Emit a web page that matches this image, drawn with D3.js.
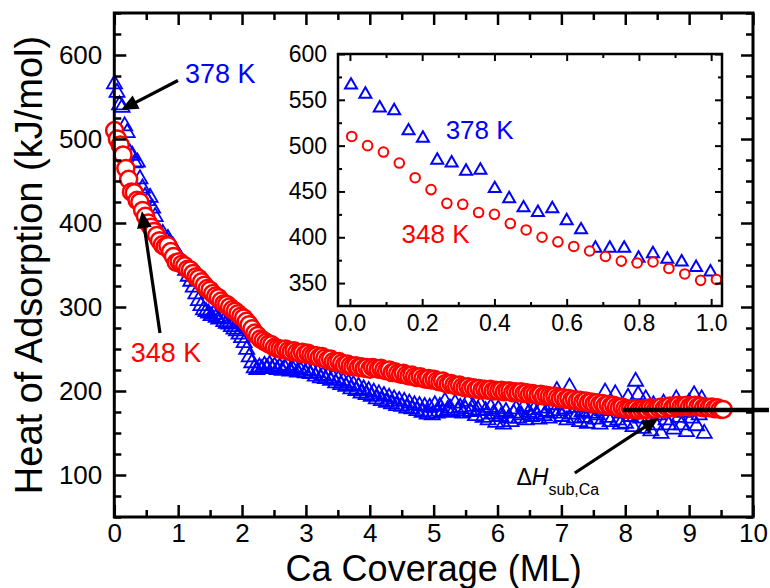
<!DOCTYPE html>
<html>
<head>
<meta charset="utf-8">
<script src="https://cdn.jsdelivr.net/npm/d3@7"></script>
<style>
  body { margin: 0; background: #fff; }
  svg { display: block; }
</style>
</head>
<body>
<div id="chart"></div>
<script>
// 378 K run (blue triangles): points are 0.0398 ML apart, first one at 0.003 ML
const tri378Start = 0.003, tri378Step = 0.0398
const tri378 = [568, 558, 543, 540, 518, 510, 486, 483, 474, 475, 455, 444, 434, 429, 433, 420, 410, 390, 390, 390, 379, 384, 378, 375, 369, 364,
  360, 352, 346, 339, 333, 326, 318, 310, 304, 299,
  297, 295, 292, 294, 290, 288, 289, 285, 283, 282,
  279, 276, 274, 270, 266, 260, 252, 243, 236, 230,
  228, 231, 229, 233, 230, 234, 229, 232, 228, 231,
  227, 230, 233, 226, 229, 231, 225, 228, 230, 224,
  227, 223, 226, 220, 224, 218, 221, 217, 220, 215,
  218, 212, 216, 210, 214, 208, 212, 205, 210, 203,
  208, 200, 205, 198, 203, 196, 201, 193, 199, 191,
  197, 189, 195, 187, 193, 185, 191, 184, 190, 182,
  188, 181, 186, 179, 185, 177, 184, 175, 183, 174,
  186, 176, 184, 178, 190, 180, 182, 177, 188, 179,
  183, 176, 181, 190, 178, 184, 173, 180, 186, 171,
  179, 168, 183, 175, 165, 181, 172, 163, 178, 170,
  166, 176, 181, 170, 174, 184, 168, 177, 172, 180,
  175, 169, 182, 173, 178, 170, 186, 176, 203, 179,
  172, 181, 168, 207, 175, 170, 183, 166, 178, 171,
  164, 176, 182, 169, 174, 163, 179, 201, 171, 166,
  181, 199, 168, 163, 176, 164, 195, 172, 160, 214,
  198, 170, 158, 193, 176, 155, 186, 162, 174, 152,
  188, 168, 162, 180, 157, 193, 171, 162, 177, 154,
  189, 170, 198, 161, 174, 193, 152]

// 348 K run (red circles): points are 0.0439 ML apart, first one at 0.005 ML
const circ348Start = 0.005, circ348Step = 0.0439
const circ348 = [510, 500, 493, 481, 465, 452, 437, 436, 427, 425, 415, 408, 400, 395, 390, 385, 379, 374, 372, 373, 366, 360, 353, 354,
  351, 349, 345, 344, 340, 336, 334, 330, 326, 322,
  320, 316, 313, 311, 307, 304, 303, 300, 297, 295,
  292, 289, 287, 283, 279, 274, 269, 266, 262, 260,
  258, 256, 255, 252, 251, 250, 249, 250, 248, 247,
  248, 246, 245, 246, 244, 245, 243, 242, 242, 240,
  241, 239, 237, 238, 235, 234, 235, 233, 231, 232,
  230, 229, 230, 228, 229, 227, 228, 226, 228, 227,
  226, 227, 225, 224, 225, 222, 223, 221, 220, 221,
  219, 218, 219, 217, 216, 217, 215, 214, 215, 213,
  214, 212, 211, 212, 209, 208, 209, 207, 206, 207,
  205, 204, 205, 203, 204, 202, 203, 201, 202, 201,
  202, 200, 201, 200, 201, 199, 200, 200, 198, 199,
  198, 199, 197, 198, 196, 197, 196, 195, 196, 194,
  195, 194, 193, 194, 192, 191, 192, 190, 191, 189,
  190, 188, 189, 187, 188, 186, 187, 185, 186, 184,
  185, 183, 184, 182, 183, 181, 180, 181, 179, 178,
  179, 178, 179, 177, 178, 179, 178, 180, 179, 178,
  180, 181, 179, 181, 182, 180, 182, 183, 181, 182,
  183, 181, 182, 183, 181, 182, 180, 181, 180, 181,
  179, 180, 178, 178]

// sublimation enthalpy of Ca, drawn as a flat line
const dHsub = 177.4
const dHsubFrom = 7.96, dHsubTo = 10.25

const xTicksMain = [0, 1, 2, 3, 4, 5, 6, 7, 8, 9, 10]
const yTicksMain = [100, 200, 300, 400, 500, 600]
const xTicksInset = [0, 0.2, 0.4, 0.6, 0.8, 1.0]
const yTicksInset = [350, 400, 450, 500, 550, 600]

const W = 770, H = 588
const font = '"Liberation Sans", Arial, sans-serif'
const BLUE = '#0000ff', RED = '#ff0000'

const toPoints = (vals, start, step) => vals.map((v, i) => [start + i * step, v])
const triPts = toPoints(tri378, tri378Start, tri378Step)
const circPts = toPoints(circ348, circ348Start, circ348Step)

// triangle centred on its bounding box, size = base width
const triUp = {
  draw(ctx, size) {
    const h = size * 0.866
    ctx.moveTo(0, -h / 2)
    ctx.lineTo(size / 2, h / 2)
    ctx.lineTo(-size / 2, h / 2)
    ctx.closePath()
  }
}

const svg = d3.select('#chart').append('svg')
  .attr('width', W).attr('height', H)
  .style('font-family', font)

const m = {left: 114.3, top: 13, right: 753, bottom: 517}
const x = d3.scaleLinear().domain([0, 10]).range([m.left, m.right])
const y = d3.scaleLinear().domain([50, 650]).range([m.bottom, m.top])

function drawAxis(axis, tx, ty, sw, fs) {
  const g = svg.append('g').attr('transform', `translate(${tx},${ty})`).call(axis)
  g.select('.domain').remove()
  g.selectAll('.tick line').attr('stroke', '#000').attr('stroke-width', sw)
  g.selectAll('.tick text').attr('fill', '#000').style('font-family', font).style('font-size', fs + 'px')
  return g
}

// ---- main data
svg.append('g').selectAll('path').data(triPts).join('path')
  .attr('transform', d => `translate(${x(d[0])},${y(d[1])})`)
  .attr('d', d3.symbol(triUp, 15))
  .attr('fill', 'none').attr('stroke', BLUE).attr('stroke-width', 1.8)

svg.append('g').selectAll('circle').data(circPts).join('circle')
  .attr('cx', d => x(d[0])).attr('cy', d => y(d[1])).attr('r', 8.5)
  .attr('fill', '#fff').attr('stroke', RED).attr('stroke-width', 2.5)

// ---- main axes
const xMinor = d3.range(0.5, 10, 1)
const yMinor = d3.range(50, 651, 25).filter(v => v % 100 !== 0)
drawAxis(d3.axisBottom(x).tickValues(xTicksMain).tickSizeInner(-12).tickSizeOuter(0).tickPadding(6.5).tickFormat(d3.format('d')), 0, m.bottom, 2.5, 26)
drawAxis(d3.axisBottom(x).tickValues(xMinor).tickSizeInner(-7).tickSizeOuter(0).tickFormat(''), 0, m.bottom, 2.5, 26)
drawAxis(d3.axisTop(x).tickValues(xTicksMain).tickSizeInner(-12).tickSizeOuter(0).tickFormat(''), 0, m.top, 2.5, 26)
drawAxis(d3.axisTop(x).tickValues(xMinor).tickSizeInner(-7).tickSizeOuter(0).tickFormat(''), 0, m.top, 2.5, 26)
drawAxis(d3.axisLeft(y).tickValues(yTicksMain).tickSizeInner(-12).tickSizeOuter(0).tickPadding(12).tickFormat(d3.format('d')), m.left, 0, 2.5, 26)
drawAxis(d3.axisLeft(y).tickValues(yMinor).tickSizeInner(-7).tickSizeOuter(0).tickFormat(''), m.left, 0, 2.5, 26)
drawAxis(d3.axisRight(y).tickValues(yTicksMain).tickSizeInner(-12).tickSizeOuter(0).tickFormat(''), m.right, 0, 2.5, 26)
drawAxis(d3.axisRight(y).tickValues(yMinor).tickSizeInner(-7).tickSizeOuter(0).tickFormat(''), m.right, 0, 2.5, 26)

svg.append('rect')
  .attr('x', m.left).attr('y', m.top)
  .attr('width', m.right - m.left).attr('height', m.bottom - m.top)
  .attr('fill', 'none').attr('stroke', '#000').attr('stroke-width', 3)

svg.append('text')
  .attr('transform', `translate(42,${(m.top + m.bottom) / 2}) rotate(-90)`)
  .attr('text-anchor', 'middle').style('font-size', '38px')
  .text('Heat of Adsorption (kJ/mol)')
svg.append('text')
  .attr('x', (m.left + m.right) / 2).attr('y', 581)
  .attr('text-anchor', 'middle').style('font-size', '36px')
  .text('Ca Coverage (ML)')

// ---- inset
const ins = {left: 338, top: 54, right: 722, bottom: 306}
const xi = d3.scaleLinear().domain([-0.033, 1.03]).range([ins.left, ins.right])
const yi = d3.scaleLinear().domain([325, 600]).range([ins.bottom, ins.top])

svg.append('rect')
  .attr('x', ins.left).attr('y', ins.top)
  .attr('width', ins.right - ins.left).attr('height', ins.bottom - ins.top)
  .attr('fill', '#fff')

const inDomain = d => d[0] <= xi.domain()[1]
svg.append('g').selectAll('path').data(triPts.filter(inDomain)).join('path')
  .attr('transform', d => `translate(${xi(d[0])},${yi(d[1])})`)
  .attr('d', d3.symbol(triUp, 12))
  .attr('fill', 'none').attr('stroke', BLUE).attr('stroke-width', 2)
svg.append('g').selectAll('circle').data(circPts.filter(inDomain)).join('circle')
  .attr('cx', d => xi(d[0])).attr('cy', d => yi(d[1])).attr('r', 4.8)
  .attr('fill', '#fff').attr('stroke', RED).attr('stroke-width', 2)

const xiMinor = d3.range(0.1, 1, 0.2)
const yiMinor = d3.range(375, 600, 50)
drawAxis(d3.axisBottom(xi).tickValues(xTicksInset).tickSizeInner(-7).tickSizeOuter(0).tickPadding(9).tickFormat(d3.format('.1f')), 0, ins.bottom, 2, 23)
drawAxis(d3.axisBottom(xi).tickValues(xiMinor).tickSizeInner(-4).tickSizeOuter(0).tickFormat(''), 0, ins.bottom, 2, 23)
drawAxis(d3.axisTop(xi).tickValues(xTicksInset).tickSizeInner(-7).tickSizeOuter(0).tickFormat(''), 0, ins.top, 2, 23)
drawAxis(d3.axisTop(xi).tickValues(xiMinor).tickSizeInner(-4).tickSizeOuter(0).tickFormat(''), 0, ins.top, 2, 23)
drawAxis(d3.axisLeft(yi).tickValues(yTicksInset).tickSizeInner(-7).tickSizeOuter(0).tickPadding(11).tickFormat(d3.format('d')), ins.left, 0, 2, 23)
drawAxis(d3.axisLeft(yi).tickValues(yiMinor).tickSizeInner(-4).tickSizeOuter(0).tickFormat(''), ins.left, 0, 2, 23)
drawAxis(d3.axisRight(yi).tickValues(yTicksInset).tickSizeInner(-7).tickSizeOuter(0).tickFormat(''), ins.right, 0, 2, 23)
drawAxis(d3.axisRight(yi).tickValues(yiMinor).tickSizeInner(-4).tickSizeOuter(0).tickFormat(''), ins.right, 0, 2, 23)

svg.append('rect')
  .attr('x', ins.left).attr('y', ins.top)
  .attr('width', ins.right - ins.left).attr('height', ins.bottom - ins.top)
  .attr('fill', 'none').attr('stroke', '#000').attr('stroke-width', 2.5)

svg.append('text').attr('x', xi(0.265)).attr('y', yi(507))
  .attr('fill', BLUE).style('font-size', '26px').text('378 K')
svg.append('text').attr('x', xi(0.143)).attr('y', yi(394))
  .attr('fill', RED).style('font-size', '26px').text('348 K')

// ---- annotations on main plot
svg.append('line')
  .attr('x1', x(dHsubFrom)).attr('x2', x(dHsubTo))
  .attr('y1', y(dHsub)).attr('y2', y(dHsub))
  .attr('stroke', '#000').attr('stroke-width', 4.5)

function arrow(from, to) {
  const x0 = x(from[0]), y0 = y(from[1]), x1 = x(to[0]), y1 = y(to[1])
  const a = Math.atan2(y1 - y0, x1 - x0), len = 17, hw = 7.5
  const bx = x1 - len * Math.cos(a), by = y1 - len * Math.sin(a)
  svg.append('line').attr('x1', x0).attr('y1', y0).attr('x2', bx + 2 * Math.cos(a)).attr('y2', by + 2 * Math.sin(a))
    .attr('stroke', '#000').attr('stroke-width', 3.2)
  svg.append('path')
    .attr('d', `M${x1},${y1}L${bx - hw * Math.sin(a)},${by + hw * Math.cos(a)}L${bx + hw * Math.sin(a)},${by - hw * Math.cos(a)}Z`)
    .attr('fill', '#000')
}
arrow([0.997, 569.6], [0.105, 534.5])
arrow([0.715, 269], [0.433, 414.3])
arrow([7.21, 102.4], [8.524, 167.9])

svg.append('text').attr('x', x(1.107)).attr('y', y(566.7))
  .attr('fill', BLUE).style('font-size', '27px').text('378 K')
svg.append('text').attr('x', x(0.257)).attr('y', y(234.9))
  .attr('fill', RED).style('font-size', '27px').text('348 K')

const dh = svg.append('text').attr('x', x(6.297)).attr('y', y(88.1)).style('font-size', '23px')
dh.append('tspan').text('Δ')
dh.append('tspan').style('font-style', 'italic').text('H')
dh.append('tspan').attr('dy', 10).style('font-size', '16px').text('sub,Ca')
</script>
</body>
</html>
